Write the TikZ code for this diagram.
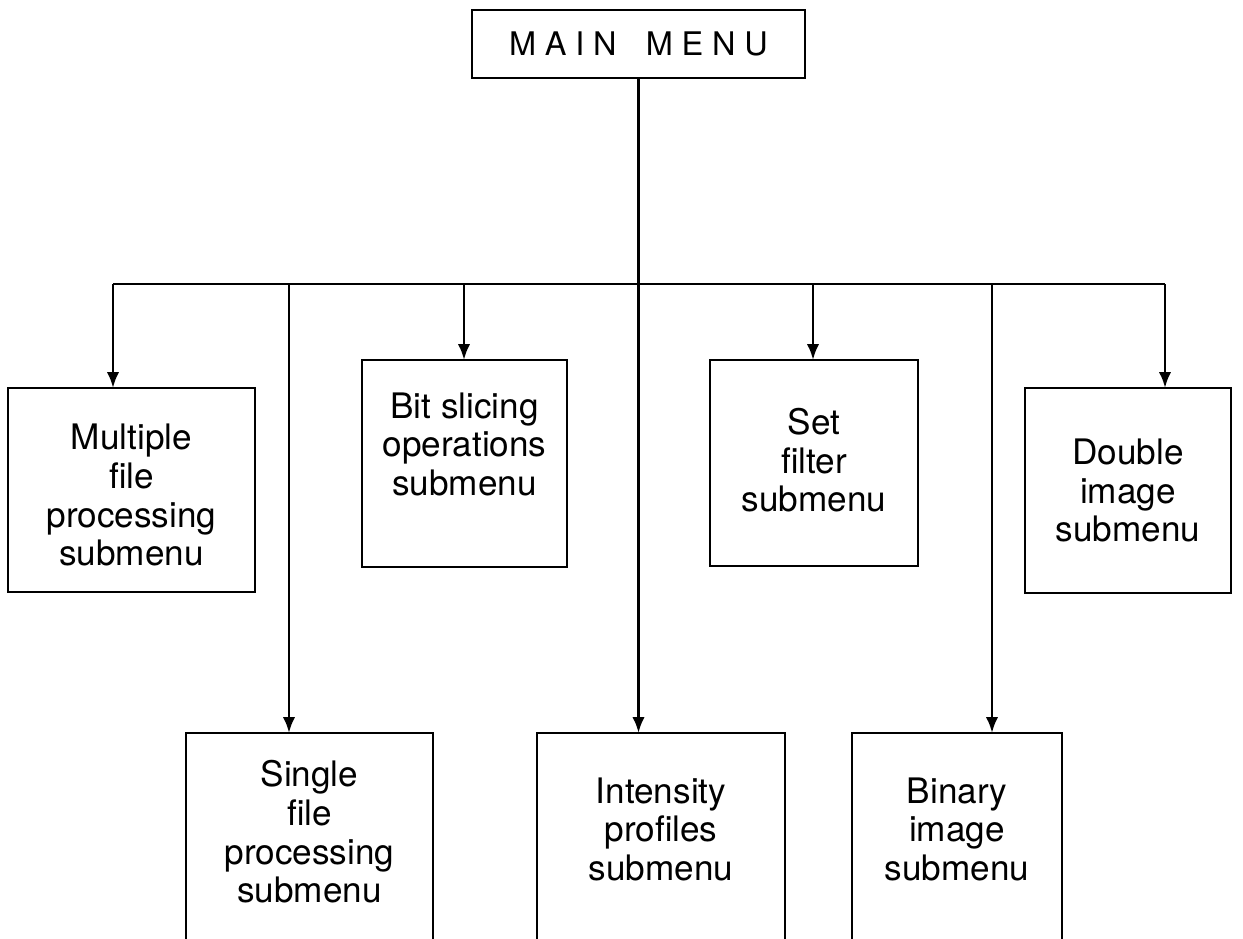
\documentclass[tikz,border=0pt]{standalone}
\usepackage{fontspec}
\setmainfont{TeX Gyre Heros}
\newfontfamily\spacedfont[LetterSpace=27]{TeX Gyre Heros}
\usetikzlibrary{arrows.meta}
\begin{document}
\begin{tikzpicture}[x=0.02cm,y=-0.02cm,
  menubox/.style={draw, line width=1.6pt, inner sep=0pt},
  menutext/.style={align=center, inner sep=0pt,
    font=\fontsize{20}{22}\selectfont},
  link/.style={line width=1.6pt},
  arrowlink/.style={line width=1.6pt, -{Latex[length=9pt,width=7pt]}, shorten >=-0.8pt}]
\useasboundingbox (0,0) rectangle (1243,939);
\clip (0,0) rectangle (1243,939);

% main menu
\node[menubox, minimum width=6.66cm, minimum height=1.36cm,
      font=\fontsize{18.5}{20}\selectfont\spacedfont] (main) at (638.5,44)
  {MAIN\hspace{0.9em}MENU};

% first row of submenus
\node[menubox, minimum width=4.94cm, minimum height=4.08cm,
      label={[menutext,yshift=-3pt]center:{Multiple\\file\\processing\\submenu}}]
  (multi) at (131.5,490) {};
\node[menubox, minimum width=4.10cm, minimum height=4.14cm,
      label={[menutext,yshift=11pt]center:{Bit slicing\\operations\\submenu}}]
  (bits) at (464.5,463.5) {};
\node[menubox, minimum width=4.16cm, minimum height=4.12cm,
      label={[menutext,yshift=1.5pt]center:{Set\\filter\\submenu}}]
  (setf) at (814,463) {};
\node[menubox, minimum width=4.12cm, minimum height=4.10cm,
      label={[menutext]center:{Double\\image\\submenu}}]
  (dbl) at (1128,490.5) {};

% second row of submenus (cut off by the lower edge)
\node[menubox, minimum width=4.94cm, minimum height=4.24cm,
      label={[menutext,yshift=4pt]center:{Single\\file\\processing\\submenu}}]
  (single) at (309.5,839) {};
\node[menubox, minimum width=4.96cm, minimum height=4.24cm,
      label={[menutext,yshift=5.5pt]center:{Intensity\\profiles\\submenu}}]
  (intens) at (661,839) {};
\node[menubox, minimum width=4.20cm, minimum height=4.24cm,
      label={[menutext,yshift=5.5pt]center:{Binary\\image\\submenu}}]
  (binary) at (957,839) {};

% taps on the distribution bus
\coordinate (t1) at (113,284);
\coordinate (t2) at (289,284);
\coordinate (t3) at (464,284);
\coordinate (t5) at (813,284);
\coordinate (t6) at (992,284);
\coordinate (t7) at (1165,284);

\draw[link] (t1) -- (t7);
\draw[arrowlink] (main.south) -- (main.south |- intens.north);
\draw[arrowlink] (t1) -- (t1 |- multi.north);
\draw[arrowlink] (t2) -- (t2 |- single.north);
\draw[arrowlink] (t3) -- (t3 |- bits.north);
\draw[arrowlink] (t5) -- (t5 |- setf.north);
\draw[arrowlink] (t6) -- (t6 |- binary.north);
\draw[arrowlink] (t7) -- (t7 |- dbl.north);
\end{tikzpicture}
\end{document}
